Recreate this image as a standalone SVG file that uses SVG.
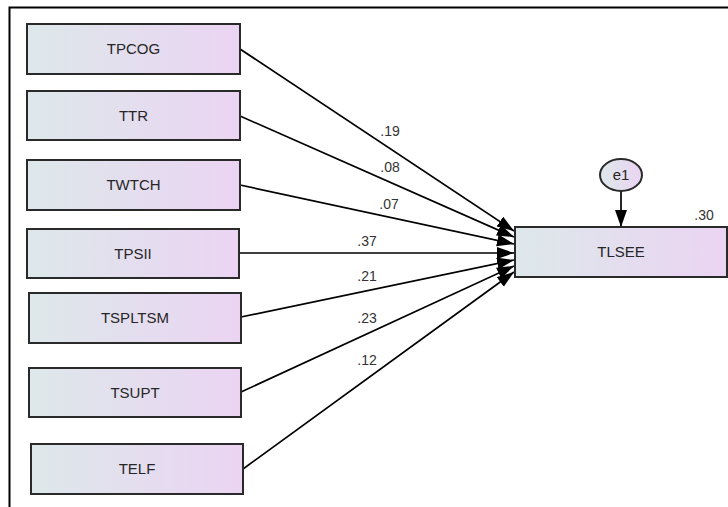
<svg xmlns="http://www.w3.org/2000/svg" width="728" height="507" viewBox="0 0 728 507">
<defs>
<linearGradient id="g" x1="0" y1="0" x2="1" y2="0">
<stop offset="0" stop-color="#dde8ea"/>
<stop offset="1" stop-color="#ebd4f3"/>
</linearGradient>
<marker id="ah" markerUnits="userSpaceOnUse" markerWidth="18" markerHeight="13" refX="17" refY="6" orient="auto" viewBox="0 0 18 13">
<path d="M0,0 L17,6 L0,12 z" fill="#000"/>
</marker>
</defs>
<style>
.box{fill:url(#g);stroke:#2a2a2a;stroke-width:2}
.nt{font-family:"Liberation Sans",Arial,sans-serif;font-size:15px;fill:#262626;text-anchor:middle}
.lb{font-family:"Liberation Sans",Arial,sans-serif;font-size:14px;fill:#333;text-anchor:middle}
.ln{stroke:#000;stroke-width:1.7;fill:none;marker-end:url(#ah)}
</style>
<rect width="728" height="507" fill="#fff"/>
<path d="M9.5,507 V7.5 H728" fill="none" stroke="#000" stroke-width="2"/>
<g id="connectors">
<line class="ln" x1="240" y1="49" x2="514" y2="231"/>
<line class="ln" x1="240" y1="116" x2="514" y2="237"/>
<line class="ln" x1="240" y1="185" x2="514" y2="244"/>
<line class="ln" x1="239" y1="253" x2="514" y2="253"/>
<line class="ln" x1="241" y1="317" x2="514" y2="260"/>
<line class="ln" x1="241" y1="392" x2="514" y2="266"/>
<line class="ln" x1="243" y1="469" x2="514" y2="272"/>
<line class="ln" x1="621" y1="191" x2="621" y2="227"/>
<text class="lb" x="390" y="136">.19</text>
<text class="lb" x="390" y="172">.08</text>
<text class="lb" x="389" y="209">.07</text>
<text class="lb" x="367" y="246">.37</text>
<text class="lb" x="367" y="281">.21</text>
<text class="lb" x="367" y="323">.23</text>
<text class="lb" x="367" y="365">.12</text>
</g>
<g id="TPCOG"><rect class="box" x="27" y="24" width="213" height="50"/><text class="nt" x="133.5" y="54">TPCOG</text></g>
<g id="TTR"><rect class="box" x="27" y="91" width="213" height="49"/><text class="nt" x="133.5" y="121">TTR</text></g>
<g id="TWTCH"><rect class="box" x="27" y="160" width="213" height="50"/><text class="nt" x="133.5" y="190">TWTCH</text></g>
<g id="TPSII"><rect class="box" x="27" y="229" width="212" height="49"/><text class="nt" x="133" y="259">TPSII</text></g>
<g id="TSPLTSM"><rect class="box" x="29" y="293" width="212" height="50"/><text class="nt" x="135" y="323">TSPLTSM</text></g>
<g id="TSUPT"><rect class="box" x="29" y="368" width="212" height="49"/><text class="nt" x="135" y="398">TSUPT</text></g>
<g id="TELF"><rect class="box" x="31" y="444" width="212" height="50"/><text class="nt" x="137" y="474">TELF</text></g>
<g id="TLSEE"><rect class="box" x="515" y="227" width="212" height="50"/><text class="nt" x="621" y="257">TLSEE</text><text class="lb" x="704" y="220">.30</text></g>
<g id="e1"><ellipse class="box" cx="621" cy="175" rx="21" ry="16"/><text class="nt" x="621" y="180">e1</text></g>
</svg>
